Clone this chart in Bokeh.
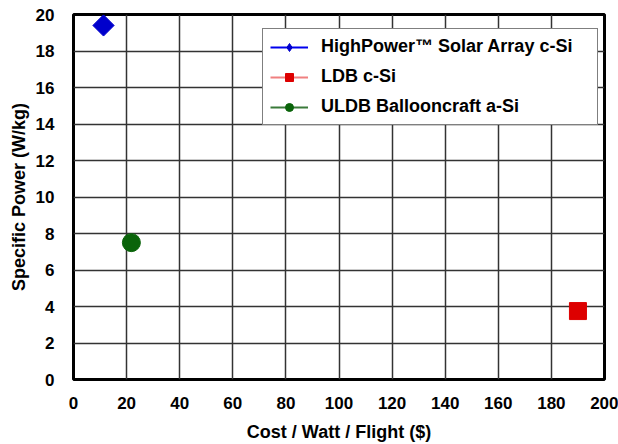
import math
from bokeh.plotting import figure
from bokeh.models import Legend, LegendItem, FixedTicker
from bokeh.embed import file_html
from bokeh.resources import INLINE

series_names = ["HighPower\u2122 Solar Array c-Si", "LDB c-Si", "ULDB Ballooncraft a-Si"]
cost = [11.3, 190.0, 21.8]
power = [19.4, 3.75, 7.5]
marker_colors = ["#0000cc", "#dd0000", "#0a640a"]
legend_line_colors = ["#0000ee", "#f08080", "#3a7a3a"]
markers = ["square", "square", "circle"]
legend_markers = ["diamond", "square", "circle"]
angles = [math.pi / 4, 0, 0]
sizes = [15, 17, 18]
legend_sizes = [13, 10, 10]

x_ticks = list(range(0, 201, 20))
y_ticks = list(range(0, 21, 2))

FONT = "Liberation Sans"

p = figure(width=618, height=444, output_backend="svg", toolbar_location=None,
           x_range=(0, 200), y_range=(0, 20),
           min_border_left=73, min_border_right=14, min_border_top=14, min_border_bottom=65)

p.outline_line_color = "black"
p.outline_line_width = 3
p.background_fill_color = "white"
p.border_fill_color = "white"

for ax in (p.xaxis[0], p.yaxis[0]):
    ax.axis_line_color = None
    ax.major_tick_line_color = None
    ax.minor_tick_line_color = None
    ax.major_label_text_font = FONT
    ax.major_label_text_font_style = "bold"
    ax.major_label_text_font_size = "17px"
    ax.major_label_text_color = "black"
    ax.axis_label_text_font = FONT
    ax.axis_label_text_font_style = "bold"
    ax.axis_label_text_font_size = "18px"
    ax.axis_label_text_color = "black"

p.xaxis.ticker = FixedTicker(ticks=x_ticks)
p.yaxis.ticker = FixedTicker(ticks=y_ticks)
p.xaxis.major_label_standoff = 11
p.yaxis.major_label_standoff = 13
p.xaxis.axis_label = "Cost / Watt / Flight ($)"
p.yaxis.axis_label = "Specific Power (W/kg)"
p.xaxis.axis_label_standoff = 10
p.yaxis.axis_label_standoff = 4

p.xgrid.ticker = FixedTicker(ticks=x_ticks)
p.ygrid.ticker = FixedTicker(ticks=y_ticks)
for g in (p.xgrid[0], p.ygrid[0]):
    g.grid_line_color = "#333333"
    g.grid_line_width = 1.5

items = []
for i in range(3):
    p.scatter(x=[cost[i]], y=[power[i]], marker=markers[i], size=sizes[i], angle=angles[i],
              fill_color=marker_colors[i], line_color=marker_colors[i])
    ln = p.line(x=[float("nan")], y=[float("nan")], line_color=legend_line_colors[i], line_width=2)
    mk = p.scatter(x=[float("nan")], y=[float("nan")], marker=legend_markers[i], size=legend_sizes[i],
                   fill_color=marker_colors[i], line_color=marker_colors[i])
    items.append(LegendItem(label=series_names[i], renderers=[ln, mk]))

legend = Legend(items=items, location=(189, 254))
legend.border_line_color = "black"
legend.border_line_width = 1
legend.background_fill_color = "white"
legend.background_fill_alpha = 1
legend.label_text_font = FONT
legend.label_text_font_style = "bold"
legend.label_text_font_size = "18px"
legend.label_text_color = "black"
legend.glyph_width = 38
legend.glyph_height = 20
legend.label_standoff = 13
legend.spacing = 9
legend.padding = 7
legend.margin = 0
legend.label_width = 269
p.add_layout(legend, "center")

open("out.html", "w").write(file_html(p, INLINE))
